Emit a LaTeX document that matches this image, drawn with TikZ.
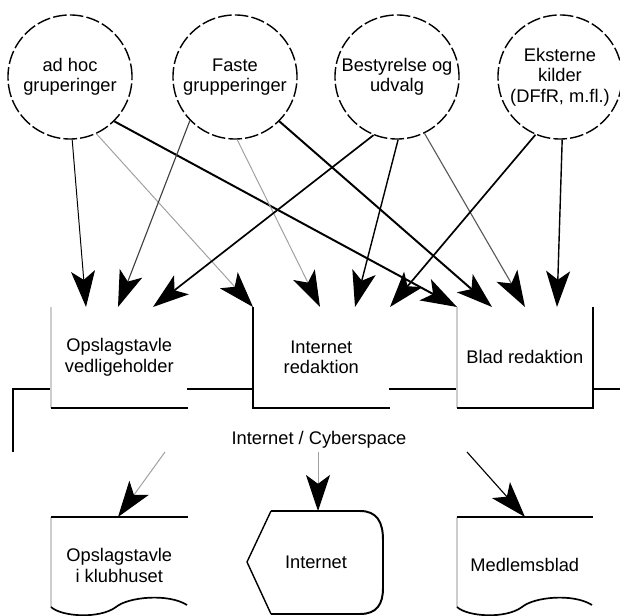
\documentclass[tikz,border=0pt]{standalone}
\usepackage{fontspec}
\setmainfont{Liberation Sans}
\usepackage{tikz}
\usetikzlibrary{arrows.meta,positioning,calc}
\usepackage{xcolor}
\tikzset{>={Stealth[length=0.9cm,width=0.6cm,inset=0.22cm,color=black]}}
\definecolor{lightedge}{RGB}{205,205,205}
\definecolor{greyline}{RGB}{160,160,160}

\begin{document}
\begin{tikzpicture}[x=0.025cm,y=-0.025cm,
  every node/.style={font=\fontsize{13}{14.5}\selectfont,align=center},
  source/.style={circle,draw,line width=1pt,dash pattern=on 0.34cm off 0.08cm,minimum size=3.1cm,inner sep=0pt},
  unit/.style={rectangle,fill=white,inner sep=0pt,minimum width=3.4cm,minimum height=2.5cm,anchor=north west},
  medium/.style={rectangle,inner sep=0pt,minimum width=3.4cm,minimum height=2.4cm,anchor=north west}]
  \useasboundingbox (0,0) rectangle (620,616);
  % kilder
  \node[source] (adhoc) at (70,77) {ad hoc\\gruperinger};
  \node[source] (faste) at (235,77) {Faste\\grupperinger};
  \node[source] (bestyr) at (397,77) {Bestyrelse og\\udvalg};
  \node[source] (ekstern) at (560,77) {Eksterne\\kilder\\(DFfR, m.fl.)};
  % Internet / Cyberspace
  \draw[line width=1.4pt] (13,452) -- (13,389) -- (620,389);
  \node (cyber) at (319,440) {Internet / Cyberspace};
  % redaktioner
  \node[unit] (vedl) at (51,307) {Opslagstavle\\vedligeholder};
  \node[unit] (inred) at (253,307) {Internet\\redaktion};
  \node[unit,minimum width=3.375cm] (blad) at (457,307) {Blad redaktion};
  \draw[lightedge,line width=1pt] (vedl.north west) -- (vedl.south west);
  \draw[line width=1.4pt] (vedl.south west) -- (vedl.south east);
  \draw[line width=1.4pt] (inred.north west) -- (inred.south west) -- (inred.south east);
  \draw[lightedge,line width=1pt] (blad.north west) -- (blad.south west);
  \draw[line width=1.4pt] (blad.south west) -- (blad.south east) -- (blad.north east);
  % pile fra kilder
  \foreach \src/\dst/\off/\col/\wid in {
    adhoc.-88/vedl/35/black/0.7pt,
    adhoc.-65/inred/0/greyline/0.7pt,
    adhoc.-45/blad/0/black/1.4pt,
    faste.224/vedl/67/black!75/0.8pt,
    faste.-88/inred/67/greyline/0.7pt,
    faste.-45/blad/35/black/1.4pt,
    bestyr.-112/vedl/102/black/1.2pt,
    bestyr.-89/inred/102/black/1pt,
    bestyr.-64/blad/68/black!65/0.8pt,
    ekstern.-113/inred/137/black/1.2pt,
    ekstern.-88/blad/100/black/1pt
  }{
    \draw[->,\col,line width=\wid] (\src) -- ($(\dst.north west)+(\off,0)$);
  }
  % medier
  \node[medium] (klub) at (51,517) {Opslagstavle\\i klubhuset};
  \node[medium,minimum width=3.375cm] (mblad) at (457,517) {Medlemsblad};
  \node (inet) at (316,562) {Internet};
  \draw[lightedge,line width=1pt] (klub.north west) -- (51,607);
  \draw[line width=1.4pt] (klub.north west) -- (klub.north east);
  \draw[line width=1.2pt] (51,607) .. controls (62,617) and (100,619) .. (116,607)
    .. controls (128,597) and (168,593) .. (187,605);
  \draw[lightedge,line width=1pt] (mblad.north west) -- (457,607);
  \draw[line width=1.4pt] (mblad.north west) -- (mblad.north east);
  \draw[line width=1.2pt] (457,607) .. controls (468,617) and (506,619) .. (522,607)
    .. controls (534,597) and (573,593) .. (592,605);
  \draw[line width=1pt] (247,562) -- (271,511);
  \draw[line width=1.4pt] (271,511) -- (360,511) .. controls (377,511) and (383,522) .. (383,540)
    -- (383,588) .. controls (383,604) and (377,614) .. (360,614) -- (271,614);
  \draw[line width=1pt] (271,614) -- (247,562);
  % pile til medier
  \coordinate (ud1) at (165,452);
  \coordinate (ud2) at (318,452);
  \coordinate (ud3) at (467,452);
  \coordinate (inettop) at (318,511);
  \draw[->,greyline,line width=0.7pt] (ud1) -- ($(klub.north west)+(67,0)$);
  \draw[->,greyline,line width=0.7pt] (ud2) -- (inettop);
  \draw[->,line width=0.8pt] (ud3) -- ($(mblad.north west)+(68,0)$);
\end{tikzpicture}
\end{document}
